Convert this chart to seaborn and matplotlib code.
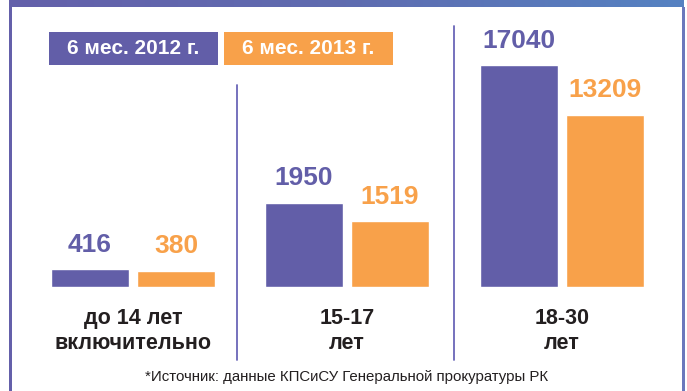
import numpy as np
import pandas as pd
import matplotlib
matplotlib.use("Agg")
import matplotlib.pyplot as plt
import seaborn as sns
from matplotlib.patches import Rectangle
from matplotlib.lines import Line2D

# Data
periods = ["6 мес. 2012 г.", "6 мес. 2013 г."]
age_groups = ["до 14 лет\nвключительно", "15-17\nлет", "18-30\nлет"]
values_2012 = [416, 1950, 17040]
values_2013 = [380, 1519, 13209]
source_note = "*Источник: данные КПСиСУ Генеральной прокуратуры РК"

PURPLE = "#625ea8"
ORANGE = "#f8a14a"
TEXT = "#231f20"
NARROW = ["Liberation Sans Narrow", "Liberation Sans", "DejaVu Sans"]

sns.set_theme(style="white")
plt.rcParams["font.family"] = ["Liberation Sans", "DejaVu Sans"]

W, H = 687, 391
fig = plt.figure(figsize=(W / 100, H / 100), dpi=100)
fig.patch.set_facecolor("white")


def fx(px):
    return px / W


def fy(py):
    return 1 - py / H


# frame: gradient band on top, thin side borders
grad = np.linspace(0, 1, 256).reshape(1, -1)
band_ax = fig.add_axes([fx(9), fy(7), fx(684) - fx(9), fy(0) - fy(7)])
band_cmap = matplotlib.colors.LinearSegmentedColormap.from_list("band", ["#6460aa", "#5f6cb0", "#5582c2"])
band_ax.imshow(grad, aspect="auto", cmap=band_cmap)
band_ax.set_axis_off()
fig.patches.append(Rectangle((fx(9), 0), fx(3), fy(7), transform=fig.transFigure,
                             facecolor="#6460aa", edgecolor="none"))
fig.patches.append(Rectangle((fx(682), 0), fx(2.5), fy(7), transform=fig.transFigure,
                             facecolor="#6b78bc", edgecolor="none"))

# legend boxes
for (x0, x1), label, col in zip([(49, 218), (224, 393)], periods, [PURPLE, ORANGE]):
    fig.patches.append(Rectangle((fx(x0), fy(65)), fx(x1 - x0), fy(32) - fy(65),
                                 transform=fig.transFigure, facecolor=col, edgecolor="none"))
    fig.text(fx((x0 + x1) / 2), fy(49), label, ha="center", va="center", color="white",
             fontsize=15, fontweight="bold", family=NARROW)

# one panel per age group, each with its own value scale
panel_centers = [90, 304, 519]
panel_ylim = [5950, 5950, 19730]
bottom_px, top_px = 287, 30
for i, (grp, c0, ytop) in enumerate(zip(age_groups, panel_centers, panel_ylim)):
    left = c0 - 43
    ax = fig.add_axes([fx(left), fy(bottom_px), fx(172), fy(top_px) - fy(bottom_px)])
    df = pd.DataFrame({"period": periods, "value": [values_2012[i], values_2013[i]]})
    sns.barplot(data=df, x="period", y="value", hue="period", order=periods,
                hue_order=periods, palette=[PURPLE, ORANGE], width=0.907,
                saturation=1, legend=False, ax=ax)
    ax.set_xlim(-0.5, 1.5)
    ax.set_ylim(0, ytop)
    ax.set_axis_off()
    for cont, col in zip(ax.containers, [PURPLE, ORANGE]):
        ax.bar_label(cont, fmt="{:.0f}", padding=9, color=col, fontsize=19, fontweight="bold")
    fig.text(fx(c0 + 43), fy(331), grp, ha="center", va="center", color=TEXT,
             fontsize=15.5, fontweight="bold", linespacing=1.25)

# group dividers
for x, y0 in [(237, 85), (454, 26)]:
    fig.lines.append(Line2D([fx(x), fx(x)], [fy(y0), fy(360)], transform=fig.transFigure,
                            color="#6a66b8", linewidth=1.3))

fig.text(fx(347), fy(377), source_note, ha="center", va="center", color=TEXT, fontsize=10.8,
         family=NARROW)

fig.savefig("out.png", dpi=100, facecolor="white")
